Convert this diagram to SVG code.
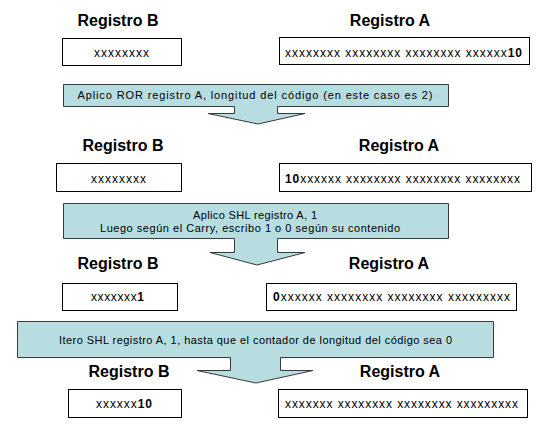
<svg xmlns="http://www.w3.org/2000/svg" width="540" height="429" viewBox="0 0 540 429">
<style>
.lbl{font-family:"Liberation Sans",Arial,sans-serif;font-size:16px;font-weight:bold;fill:#000;text-anchor:middle}
.box{fill:#fff;stroke:#000;stroke-width:1}
.val{font-family:"Liberation Sans",Arial,sans-serif;font-size:12px;fill:#000}
.b{font-weight:bold}
.call{fill:#b7dde0;stroke:#3a3a3a;stroke-width:1}
.ct{font-family:"Liberation Sans",Arial,sans-serif;font-size:11px;fill:#000;text-anchor:middle}
</style>
<rect width="540" height="429" fill="#fff"/>

<g id="row1">
  <text class="lbl" x="118" y="26">Registro B</text>
  <text class="lbl" x="390" y="26">Registro A</text>
  <g id="regB1"><rect class="box" x="62.5" y="38.5" width="119" height="27"/>
    <text class="val" x="94" y="57" textLength="55">xxxxxxxx</text></g>
  <g id="regA1"><rect class="box" x="279.5" y="37.5" width="250" height="27"/>
    <text class="val" x="285" y="57" textLength="237">xxxxxxxx xxxxxxxx xxxxxxxx xxxxxx<tspan class="b">10</tspan></text></g>
</g>

<g id="row2">
  <text class="lbl" x="123" y="151">Registro B</text>
  <text class="lbl" x="399" y="151">Registro A</text>
  <g id="regB2"><rect class="box" x="56.5" y="163.5" width="125" height="28"/>
    <text class="val" x="91" y="183" textLength="55">xxxxxxxx</text></g>
  <g id="regA2"><rect class="box" x="279.5" y="163.5" width="252" height="28"/>
    <text class="val" x="285" y="183" textLength="235"><tspan class="b">10</tspan>xxxxxx xxxxxxxx xxxxxxxx xxxxxxxx</text></g>
</g>

<g id="row3">
  <text class="lbl" x="118" y="269">Registro B</text>
  <text class="lbl" x="389" y="269">Registro A</text>
  <g id="regB3"><rect class="box" x="62.5" y="283.5" width="115" height="27"/>
    <text class="val" x="91" y="301" textLength="53">xxxxxxx<tspan class="b">1</tspan></text></g>
  <g id="regA3"><rect class="box" x="266.5" y="283.5" width="250" height="27"/>
    <text class="val" x="273" y="301" textLength="237"><tspan class="b">0</tspan>xxxxxx xxxxxxxx xxxxxxxx xxxxxxxxx</text></g>
</g>

<g id="row4">
  <text class="lbl" x="129" y="377">Registro B</text>
  <text class="lbl" x="400" y="377">Registro A</text>
  <g id="regB4"><rect class="box" x="68.5" y="389.5" width="113" height="28"/>
    <text class="val" x="96" y="408" textLength="56">xxxxxx<tspan class="b">10</tspan></text></g>
  <g id="regA4"><rect class="box" x="278.5" y="389.5" width="249" height="28"/>
    <text class="val" x="285" y="408" textLength="233">xxxxxxx xxxxxxxx xxxxxxxx xxxxxxxxx</text></g>
</g>

<g id="connectors">
  <g id="callout1">
    <path class="call" d="M63.5,84.5 H448.5 V106.5 H277.5 V113.5 H305 L258,124 L208,113.5 H234.5 V106.5 H63.5 Z"/>
    <text class="ct" x="255" y="99" textLength="355">Aplico ROR registro A, longitud del código (en este caso es 2)</text>
  </g>
  <g id="callout2">
    <path class="call" d="M63.5,203.5 H448.5 V238.5 H277.5 V252.5 H305 L257,265 L210,252.5 H234.5 V238.5 H63.5 Z"/>
    <text class="ct" x="255" y="219" textLength="124">Aplico SHL registro A, 1</text>
    <text class="ct" x="250" y="232" textLength="300">Luego según el Carry, escribo 1 o 0 según su contenido</text>
  </g>
  <g id="callout3">
    <path class="call" d="M17.5,321.5 H493.5 V357.5 H280.5 V370.5 H313 L256,383 L197,370.5 H230.5 V357.5 H17.5 Z"/>
    <text class="ct" x="255.5" y="344" textLength="393">Itero SHL registro A, 1, hasta que el contador de longitud del código sea 0</text>
  </g>
</g>
</svg>
